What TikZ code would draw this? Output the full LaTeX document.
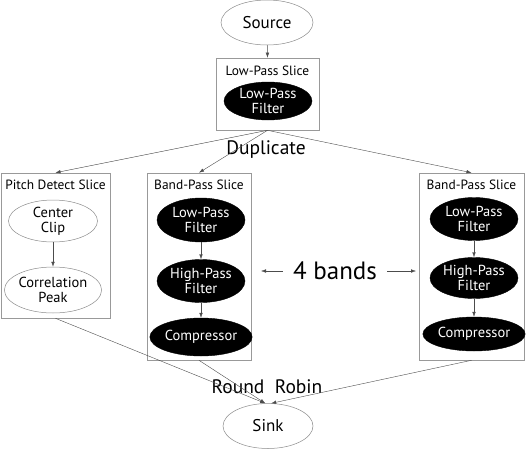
\documentclass[tikz,border=0pt]{standalone}
\usepackage{fontspec}
\setmainfont{PT Sans}
\usetikzlibrary{arrows.meta,shapes.geometric}
\begin{document}
\begin{tikzpicture}[x=1pt,y=-1pt,
  every node/.style={font=\fontsize{14.5}{15}\selectfont, align=center, inner sep=0pt},
  whiteell/.style={ellipse, draw=black!45, line width=0.5pt, fill=white},
  blackell/.style={ellipse, draw=black, fill=black, text=white},
  slicebox/.style={draw=black!40, line width=0.6pt, rectangle},
  slicetitle/.style={font=\fontsize{13.4}{14}\selectfont},
  edge/.style={draw=black!70, line width=0.4pt, -{Latex[length=5pt,width=3.5pt]}},
  biglabel/.style={font=\fontsize{19.5}{20}\selectfont}
]
\useasboundingbox (0,0) rectangle (527,450);
% boxes
\node[slicebox, minimum width=103pt, minimum height=72pt] (lpbox) at (267.5,94) {};
\node[slicebox, minimum width=109pt, minimum height=145pt] (pitch) at (55.5,245.5) {};
\node[slicebox, minimum width=104pt, minimum height=187pt] (bandl) at (199,266.5) {};
\node[slicebox, minimum width=105pt, minimum height=187pt] (bandr) at (471.5,266.5) {};
% titles
\node[slicetitle] (lptitle) at (267.5,71) {Low-Pass Slice};
\node[slicetitle] (pitchtitle) at (55.5,185) {Pitch Detect Slice};
\node[slicetitle] (bandltitle) at (199,185) {Band-Pass Slice};
\node[slicetitle] (bandrtitle) at (471.5,185) {Band-Pass Slice};
% source / sink
\node[whiteell, minimum width=92pt, minimum height=45pt, font=\fontsize{17}{18}\selectfont] (source) at (267,22.5) {Source};
\node[whiteell, minimum width=90pt, minimum height=45pt, font=\fontsize{17}{18}\selectfont] (sink) at (268,426) {Sink};
% low-pass slice
\node[blackell, minimum width=88pt, minimum height=38pt] (lpf) at (268,101) {Low-Pass\\Filter};
% pitch
\node[whiteell, minimum width=89pt, minimum height=42pt] (clip) at (53,221) {Center\\Clip};
\node[whiteell, minimum width=89pt, minimum height=46pt] (corr) at (53,290) {Correlation\\Peak};
% left band
\node[blackell, minimum width=88pt, minimum height=44pt] (llp) at (201,220) {Low-Pass\\Filter};
\node[blackell, minimum width=88pt, minimum height=43pt] (lhp) at (201,281) {High-Pass\\Filter};
\node[blackell, minimum width=88pt, minimum height=38pt] (lcomp) at (201,337) {Compressor};
% right band
\node[blackell, minimum width=88pt, minimum height=43pt] (rlp) at (474,219) {Low-Pass\\Filter};
\node[blackell, minimum width=88pt, minimum height=41pt] (rhp) at (474,278) {High-Pass\\Filter};
\node[blackell, minimum width=88pt, minimum height=34pt] (rcomp) at (474,334) {Compressor};
% labels
\node[biglabel] (dup) at (266,150) {Duplicate};
\node[biglabel] (rr) at (267,387) {Round\ \ Robin};
\node[font=\fontsize{25}{26}\selectfont, inner sep=10pt] (bands) at (335,271) {4 bands};
\coordinate (bl) at (261,271);
\coordinate (br) at (416,271);
% edges
\draw[edge] (source) -- (lpbox.north);
\draw[edge] (lpbox.south) -- (pitch.north);
\draw[edge] (lpbox.south) -- (bandl.north);
\draw[edge] (lpbox.south) -- (bandr.north);
\draw[edge] (clip) -- (corr);
\draw[edge] (llp) -- (lhp);
\draw[edge] (lhp) -- (lcomp);
\draw[edge] (rlp) -- (rhp);
\draw[edge] (rhp) -- (rcomp);
\draw[edge] (bands.west) -- (bl);
\draw[edge] (bands.east) -- (br);
\draw[edge] (pitch.south) -- (sink.97);
\draw[edge] (bandl.south) -- (sink.97);
\draw[edge] (bandr.south) -- (sink.82);
\end{tikzpicture}
\end{document}
